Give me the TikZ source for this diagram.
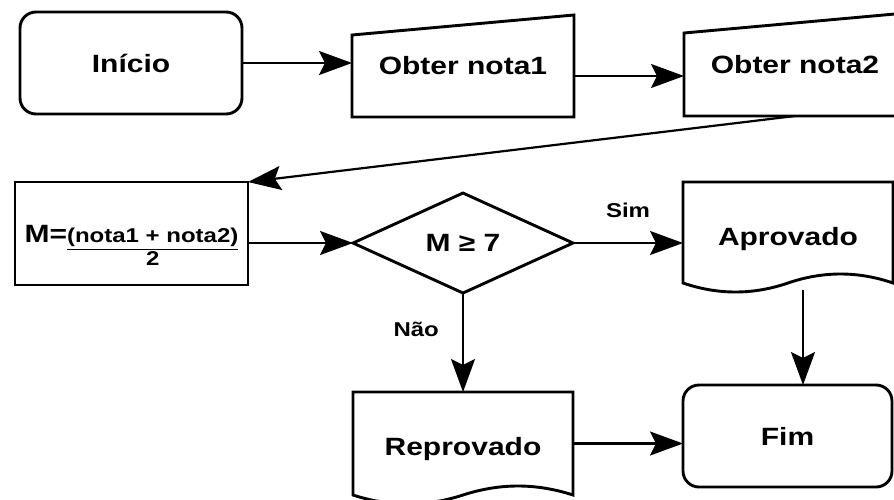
\documentclass[tikz,border=0pt]{standalone}
\usepackage{fontspec}
\setmainfont{Liberation Sans}[FakeStretch=1.2]
\usetikzlibrary{arrows.meta,shapes.geometric}
\setlength{\arrayrulewidth}{1.5pt}

\begin{document}
\begin{tikzpicture}[
    x=1pt, y=-1pt,
    shapebox/.style={minimum width=222pt, minimum height=102pt, inner sep=0pt, outer sep=0pt, align=center, font=\fontsize{25}{30}\selectfont\bfseries},
    term/.style={shapebox, draw, line width=2.9pt, rounded corners=16pt},
    proc/.style={shapebox, draw, line width=2.9pt},
    decision/.style={diamond, draw, line width=2.9pt, aspect=2.2, minimum width=220pt, minimum height=100pt, inner sep=0pt, outer sep=0pt, font=\fontsize{25}{30}\selectfont\bfseries},
    outline/.style={line width=2.9pt},
    arrow/.style={-{Stealth[length=33pt,width=24pt,inset=6pt]}, line width=2.2pt},
    lbl/.style={inner sep=1pt, font=\fontsize{20}{24}\selectfont\bfseries}
]
    \useasboundingbox (0,0) rectangle (894,499);
    \clip (0,0) rectangle (894,499);
    \fill[white] (0,0) rectangle (894,499);

    \node[term] (ini) at (131,63) {Início};
    \node[shapebox] (nota1) at (463,66) {Obter nota1};
    \node[shapebox, minimum height=103pt] (nota2) at (795,64.5) {Obter nota2};
    \node[proc, minimum width=233pt, minimum height=103pt, text height=40pt, text depth=23pt] (media) at (131.5,233.5)
        {M={\fontsize{20}{22}\selectfont\begin{tabular}[t]{@{}c@{}}(nota1 + nota2)\\\hline 2\end{tabular}}};
    \node[decision] (teste) at (463,243) {M ≥ 7};
    \node[shapebox, minimum width=210pt, minimum height=101pt, text height=30pt, text depth=5pt] (aprov) at (788,232.5) {Aprovado};
    \node[shapebox, minimum width=220pt, minimum height=103pt, text height=28pt, text depth=5pt] (reprov) at (463,443.5) {Reprovado};
    \node[term, minimum width=209pt] (fim) at (787.5,436) {Fim};

    \draw[outline] (nota1.south west) -- ([yshift=-20pt]nota1.north west) -- (nota1.north east) -- (nota1.south east) -- cycle;
    \draw[outline] (nota2.south west) -- ([yshift=-20pt]nota2.north west) -- (nota2.north east) -- (nota2.south east) -- cycle;
    \draw[outline] (aprov.south west) -- (aprov.north west) -- (aprov.north east) -- (aprov.south east)
        .. controls +(-35,-12) and +(35,-12) .. (aprov.south)
        .. controls +(-35,12) and +(35,12) .. (aprov.south west) -- cycle;
    \draw[outline] (reprov.south west) -- (reprov.north west) -- (reprov.north east) -- (reprov.south east)
        .. controls +(-37,-12) and +(37,-12) .. (reprov.south)
        .. controls +(-37,12) and +(37,12) .. (reprov.south west) -- cycle;

    \coordinate (n1out) at ([yshift=-10pt]nota1.east);
    \coordinate (aprout) at ([xshift=15pt,yshift=-7pt]aprov.south);

    \draw[arrow] (ini.east) -- (ini.east -| nota1.west);
    \draw[arrow] (n1out) -- (n1out -| nota2.west);
    \draw[arrow] (nota2.south) -- (media.north east);
    \draw[arrow] (teste.west -| media.east) -- (teste.west);
    \draw[arrow] (teste.east) -- node[lbl, above=23pt] (sim) {Sim} (teste.east -| aprov.west);
    \draw[arrow] (teste.south) -- node[lbl, left=22pt, pos=0.37] (nao) {Não} (reprov.north);
    \draw[arrow] (aprout) -- (aprout |- fim.north);
    \draw[arrow] (reprov.east) -- (reprov.east -| fim.west);
\end{tikzpicture}
\end{document}
